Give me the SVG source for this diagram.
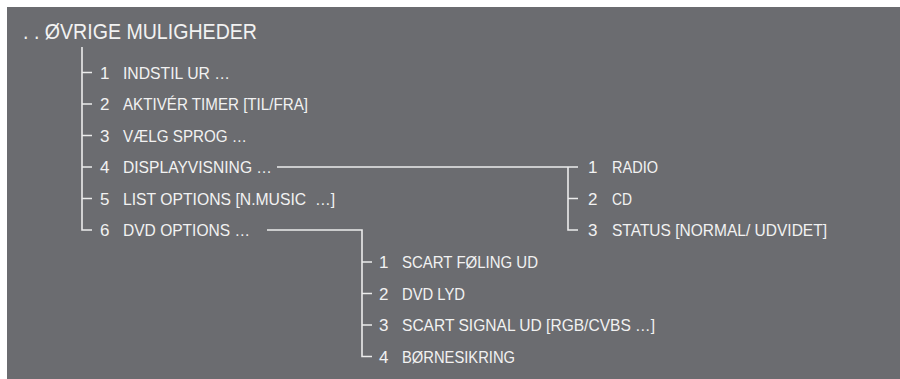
<svg xmlns="http://www.w3.org/2000/svg" width="900" height="379" viewBox="0 0 900 379">
<style>
.bg{fill:#6b6c70}
.t{font-family:"Liberation Sans","DejaVu Sans",sans-serif;font-size:17px;fill:#f2f2f2}
.title{font-family:"Liberation Sans","DejaVu Sans",sans-serif;font-size:21.5px;fill:#f2f2f2}
.ln{fill:none;stroke:#ececec;stroke-width:1.6}
</style>
<rect class="bg" x="7" y="7" width="893" height="372"/>
<g id="root"><text class="title" x="23" y="38.5" textLength="234" lengthAdjust="spacingAndGlyphs">. . ØVRIGE MULIGHEDER</text></g>
<g id="connectors">
<path class="ln" d="M82 47V230H92M82 72.5H92M82 104H92M82 135.5H92M82 167H92M82 198.5H92"/>
<path class="ln" d="M277 167H578M568 167V230H578M568 198.5H578"/>
<path class="ln" d="M267 230H362V356.5H372M362 262H372M362 293.5H372M362 325H372"/>
</g>
<g id="m1"><text class="t" x="100" y="78.5">1</text><text class="t" x="123" y="78.5" textLength="107" lengthAdjust="spacingAndGlyphs">INDSTIL UR …</text></g>
<g id="m2"><text class="t" x="100" y="110">2</text><text class="t" x="123" y="110" textLength="185" lengthAdjust="spacingAndGlyphs">AKTIVÉR TIMER [TIL/FRA]</text></g>
<g id="m3"><text class="t" x="100" y="141.5">3</text><text class="t" x="123" y="141.5" textLength="124" lengthAdjust="spacingAndGlyphs">VÆLG SPROG …</text></g>
<g id="m4"><text class="t" x="100" y="173">4</text><text class="t" x="123" y="173" textLength="149" lengthAdjust="spacingAndGlyphs">DISPLAYVISNING …</text></g>
<g id="m5"><text class="t" x="100" y="204.5">5</text><text class="t" x="123" y="204.5" textLength="212" lengthAdjust="spacingAndGlyphs" xml:space="preserve">LIST OPTIONS [N.MUSIC  …]</text></g>
<g id="m6"><text class="t" x="100" y="236">6</text><text class="t" x="123" y="236" textLength="127" lengthAdjust="spacingAndGlyphs">DVD OPTIONS …</text></g>
<g id="d1"><text class="t" x="588" y="173">1</text><text class="t" x="612" y="173" textLength="46" lengthAdjust="spacingAndGlyphs">RADIO</text></g>
<g id="d2"><text class="t" x="588" y="204.5">2</text><text class="t" x="612" y="204.5" textLength="20" lengthAdjust="spacingAndGlyphs">CD</text></g>
<g id="d3"><text class="t" x="588" y="236">3</text><text class="t" x="612" y="236" textLength="215" lengthAdjust="spacingAndGlyphs">STATUS [NORMAL/ UDVIDET]</text></g>
<g id="v1"><text class="t" x="379" y="268">1</text><text class="t" x="402" y="268" textLength="136" lengthAdjust="spacingAndGlyphs">SCART FØLING UD</text></g>
<g id="v2"><text class="t" x="379" y="299.5">2</text><text class="t" x="402" y="299.5" textLength="63" lengthAdjust="spacingAndGlyphs">DVD LYD</text></g>
<g id="v3"><text class="t" x="379" y="331">3</text><text class="t" x="402" y="331" textLength="253" lengthAdjust="spacingAndGlyphs">SCART SIGNAL UD [RGB/CVBS …]</text></g>
<g id="v4"><text class="t" x="379" y="362.5">4</text><text class="t" x="402" y="362.5" textLength="113" lengthAdjust="spacingAndGlyphs">BØRNESIKRING</text></g>
</svg>
